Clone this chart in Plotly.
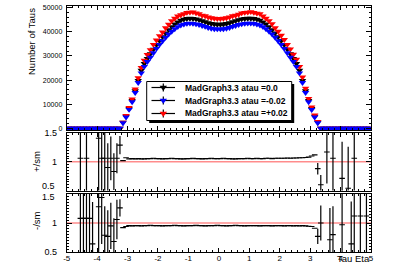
import plotly.graph_objects as go

W, H = 399, 272

# ---------------- data ----------------
BIN_LOW, BIN_WIDTH, N_BINS = -5.0, 0.1, 100
ETA = [round(BIN_LOW + BIN_WIDTH * (i + 0.5), 2) for i in range(N_BINS)]

TAIL_ZEROS = [0] * 18

SM_CORE = [2500, 5000, 8200, 11500, 15500, 19800, 24000, 26800, 28900, 30800,
           32700, 34600, 36300, 37900, 39400, 40800, 42000, 43100, 44000, 44700,
           45100, 45400, 45500, 45400, 45200, 44900, 44500, 44100, 43600, 43300,
           43100, 43000, 43000, 43100, 43300, 43600, 44100, 44500, 44900, 45200,
           45400, 45500, 45500, 45400, 45100, 44700, 44000, 43100, 42000, 40800,
           39400, 37900, 36300, 34600, 32700, 30800, 28900, 26800, 24000, 19800,
           15500, 11500, 8200, 5000, 2500]
PLUS_CORE = [2550, 5350, 8610, 12130, 16280, 20890, 25200, 28140, 30490, 32490,
             34660, 36500, 38300, 39800, 41570, 43040, 44520, 45470, 46420, 46940,
             47360, 47900, 48000, 48120, 47690, 47370, 46730, 46530, 46000, 45680,
             45470, 45370, 45370, 45470, 45680, 46000, 46530, 46730, 47150, 47690,
             47900, 48000, 48230, 47900, 47580, 47380, 46420, 45470, 44520, 43250,
             41570, 40170, 38480, 36680, 34660, 32800, 30630, 28540, 25560, 21190,
             16590, 12360, 8860, 5500, 2800]
MINUS_CORE = [2300, 4700, 7830, 10980, 14800, 18910, 22920, 25590, 27600, 29410,
              31230, 33040, 34670, 36190, 37630, 38960, 40110, 41160, 42020, 42690,
              43070, 43360, 43450, 43360, 43170, 42880, 42500, 42120, 41640, 41350,
              41160, 41070, 41070, 41160, 41350, 41640, 42120, 42500, 42880, 43170,
              43360, 43450, 43450, 43360, 43070, 42690, 42020, 41160, 40110, 38960,
              37630, 36190, 34670, 33040, 31230, 29410, 27600, 25590, 22920, 18910,
              14800, 10980, 7790, 4700, 2280]

SM = TAIL_ZEROS + SM_CORE + TAIL_ZEROS[:17]
PLUS = TAIL_ZEROS + PLUS_CORE + TAIL_ZEROS[:17]
MINUS = TAIL_ZEROS + MINUS_CORE + TAIL_ZEROS[:17]

# ratio panels: well-populated central bins (-3.15 .. 3.15)
RATIO_CORE_ETA = ETA[18:82]
PLUS_RATIO_CORE = [1.02, 1.07,
                   1.05, 1.055, 1.05, 1.055, 1.05, 1.05, 1.055, 1.055, 1.06, 1.055,
                   1.055, 1.05, 1.055, 1.055, 1.06, 1.055, 1.055, 1.05, 1.05, 1.055,
                   1.055, 1.06, 1.055, 1.055, 1.05, 1.055, 1.055, 1.06, 1.055, 1.055,
                   1.055, 1.06, 1.055, 1.055, 1.05, 1.05, 1.055, 1.055, 1.055, 1.06,
                   1.055, 1.055, 1.06, 1.055, 1.055, 1.06, 1.06, 1.055, 1.06, 1.06,
                   1.06, 1.06, 1.065, 1.06, 1.065, 1.065, 1.07, 1.07, 1.075, 1.08,
                   1.10, 1.12]
MINUS_RATIO_CORE = [0.92, 0.94,
                    0.955, 0.95, 0.955, 0.955, 0.95, 0.955, 0.955, 0.96, 0.955, 0.955,
                    0.955, 0.95, 0.955, 0.955, 0.955, 0.96, 0.955, 0.955, 0.95, 0.955,
                    0.955, 0.955, 0.96, 0.955, 0.955, 0.95, 0.955, 0.955, 0.955, 0.96,
                    0.955, 0.955, 0.95, 0.955, 0.955, 0.96, 0.955, 0.955, 0.95, 0.955,
                    0.955, 0.955, 0.955, 0.95, 0.955, 0.955, 0.955, 0.95, 0.955, 0.955,
                    0.955, 0.95, 0.955, 0.955, 0.95, 0.955, 0.95, 0.955, 0.95, 0.945,
                    0.94, 0.91]

# ratio panels: sparsely populated forward bins (large errors)
PLUS_TAIL_ETA = [-4.55, -4.35, -3.95, -3.85, -3.75, -3.65, -3.55, -3.45, -3.35, -3.25,
                 3.25, 3.35, 3.55, 3.75, 4.05, 4.25, 4.45]
PLUS_TAIL_RATIO = [1.06, 1.06, 1.41, 1.06, 1.06, 0.90, 1.06, 0.83, 1.06, 1.29,
                   0.88, 0.60, 1.17, 1.06, 0.71, 0.54, 1.06]
PLUS_TAIL_ERR = [1.5, 1.5, 1.2, 1.0, 0.8, 0.42, 0.38, 0.32, 0.26, 0.16,
                 0.10, 0.17, 0.55, 1.2, 0.64, 0.72, 1.5]

MINUS_TAIL_ETA = [-4.55, -4.45, -4.35, -4.25, -4.15, -3.95, -3.85, -3.75, -3.65, -3.55,
                  -3.45, -3.35, -3.25, 3.25, 3.35, 3.65, 3.75, 4.05, 4.35, 4.45,
                  4.65, 4.85]
MINUS_TAIL_RATIO = [1.08, 1.08, 1.08, 1.08, 0.64, 1.28, 1.44, 0.79, 0.77, 0.95,
                    0.68, 1.06, 1.26, 0.77, 1.00, 0.71, 0.80, 0.97, 0.64, 1.12,
                    1.12, 1.12]
MINUS_TAIL_ERR = [1.5, 1.5, 1.5, 1.5, 0.72, 0.8, 0.8, 0.5, 0.45, 0.4,
                  0.4, 0.34, 0.15, 0.13, 0.3, 0.55, 0.49, 1.2, 0.73, 1.5,
                  1.5, 1.5]

LEG_LABELS = ["MadGraph3.3 atau =0.0", "MadGraph3.3 atau =-0.02", "MadGraph3.3 atau =+0.02"]
COLORS = ["#000000", "#0000ff", "#ff0000"]

TOP_YTICKS = [0, 10000, 20000, 30000, 40000, 50000]
MID_YTICKS = [1, 1.5]          # "0.5" of this pad is half hidden under the lower pad
BOT_YTICKS = [0.5, 1]          # "1.5" of this pad is half clipped at the pad top
X_TICKS = [-5, -4, -3, -2, -1, 0, 1, 2, 3, 4, 5]

# ---------------- layout geometry (pixels) ----------------
def fx(p):
    return p / W

def fy(p):
    return 1 - p / H

XDOM = [fx(66.7), fx(371)]
TOP_DOM = [fy(130), fy(6)]
MID_DOM = [fy(190.5), fy(133)]
BOT_DOM = [fy(252), fy(194)]

FONT = "Liberation Sans, Arial, sans-serif"

fig = go.Figure()

# top panel traces (black, red, blue)
for vals, col in [(SM, COLORS[0]), (PLUS, COLORS[2]), (MINUS, COLORS[1])]:
    fig.add_trace(go.Scatter(x=ETA, y=vals, mode="markers", xaxis="x", yaxis="y",
                             marker=dict(symbol="triangle-down", size=6.5, color=col,
                                         line=dict(width=0)),
                             showlegend=False, hoverinfo="skip"))

ratio_marker = dict(symbol="line-ew", size=4, color="black",
                    line=dict(width=1.1, color="black"))

for xa, ya, ce, cv, te, tv, terr in [
        ("x2", "y2", RATIO_CORE_ETA, PLUS_RATIO_CORE, PLUS_TAIL_ETA, PLUS_TAIL_RATIO, PLUS_TAIL_ERR),
        ("x3", "y3", RATIO_CORE_ETA, MINUS_RATIO_CORE, MINUS_TAIL_ETA, MINUS_TAIL_RATIO, MINUS_TAIL_ERR)]:
    fig.add_trace(go.Scatter(x=ce, y=cv, mode="markers", xaxis=xa, yaxis=ya,
                             marker=ratio_marker, showlegend=False, hoverinfo="skip"))
    fig.add_trace(go.Scatter(x=te, y=tv, mode="markers", xaxis=xa, yaxis=ya,
                             marker=ratio_marker,
                             error_y=dict(type="data", array=terr, visible=True,
                                          thickness=1.2, width=0, color="black"),
                             showlegend=False, hoverinfo="skip"))

# reference lines at ratio 1
for xr, yr in [("x2", "y2"), ("x3", "y3")]:
    fig.add_shape(type="line", xref=xr, yref=yr, x0=-5, x1=5, y0=1, y1=1,
                  line=dict(color="rgba(255,0,0,0.45)", width=1.5), layer="below")

def xaxis_cfg(dom_anchor, labels):
    return dict(domain=XDOM, anchor=dom_anchor, range=[-5, 5], showline=True,
                linecolor="black", linewidth=1, mirror="ticks", ticks="inside",
                ticklen=4, tickwidth=1, tickcolor="black",
                tickvals=X_TICKS, ticktext=[str(v) for v in X_TICKS],
                showticklabels=labels, tickfont=dict(family=FONT, size=8, color="black"),
                ticklabelstandoff=-2,
                minor=dict(dtick=0.2, ticks="inside", ticklen=2, tickcolor="black"),
                showgrid=False, zeroline=False, automargin=False)

def ratio_y(dom, anchor, tv):
    return dict(domain=dom, anchor=anchor, range=[0.5, 1.5], showline=True,
                linecolor="black", linewidth=1, mirror="ticks", ticks="inside",
                ticklen=5, tickwidth=1, tickcolor="black",
                tickvals=tv, ticktext=[("%g" % v) for v in tv],
                tickfont=dict(family=FONT, size=9, color="black"),
                ticklabelstandoff=7,
                minor=dict(dtick=0.05, ticks="inside", ticklen=2.5, tickcolor="black"),
                showgrid=False, zeroline=False, automargin=False)

fig.update_layout(
    width=W, height=H,
    margin=dict(l=0, r=0, t=0, b=0, pad=0),
    paper_bgcolor="white", plot_bgcolor="rgba(0,0,0,0)",
    showlegend=False,
    xaxis=xaxis_cfg("y", False),
    xaxis2=xaxis_cfg("y2", False),
    xaxis3=xaxis_cfg("y3", True),
    yaxis=dict(domain=TOP_DOM, anchor="x", range=[-620, 50620], showline=True,
               linecolor="black", linewidth=1, mirror="ticks", ticks="inside",
               ticklen=5, tickwidth=1, tickcolor="black",
               tickvals=TOP_YTICKS, ticktext=[str(v) for v in TOP_YTICKS],
               tickfont=dict(family=FONT, size=7, color="black"),
               ticklabelstandoff=2,
               minor=dict(dtick=2000, ticks="inside", ticklen=2.5, tickcolor="black"),
               showgrid=False, zeroline=False, automargin=False),
    yaxis2=ratio_y(MID_DOM, "x2", MID_YTICKS),
    yaxis3=ratio_y(BOT_DOM, "x3", BOT_YTICKS),
)

# the two partially hidden labels at the pad boundary
tick_font = dict(family=FONT, size=9, color="black")
fig.add_annotation(text="0.5", x=fx(57), y=fy(186.3), xref="paper", yref="paper",
                   showarrow=False, font=tick_font, xanchor="right", yanchor="middle")
fig.add_annotation(text="1.5", x=fx(57), y=fy(197.2), xref="paper", yref="paper",
                   showarrow=False, font=tick_font, xanchor="right", yanchor="middle")

# axis titles
ann_font = dict(family=FONT, size=9.5, color="black")
fig.add_annotation(text="Number of Taus", x=fx(31.5), y=fy(41.5), xref="paper", yref="paper",
                   textangle=-90, showarrow=False, font=ann_font, xanchor="center", yanchor="middle")
fig.add_annotation(text="+/sm", x=fx(36.5), y=fy(161.5), xref="paper", yref="paper",
                   textangle=-90, showarrow=False, font=ann_font, xanchor="center", yanchor="middle")
fig.add_annotation(text="-/sm", x=fx(36.5), y=fy(220.5), xref="paper", yref="paper",
                   textangle=-90, showarrow=False, font=ann_font, xanchor="center", yanchor="middle")
fig.add_annotation(text="Tau Eta", x=fx(372), y=fy(258), xref="paper", yref="paper",
                   showarrow=False, font=ann_font, xanchor="right", yanchor="middle")

# legend (drawn by hand, ROOT style with shadow)
LX0, LX1, LY0, LY1 = 146.7, 291.7, 81.5, 120.5
fig.add_shape(type="rect", xref="paper", yref="paper",
              x0=fx(LX0 + 2.5), x1=fx(LX1 + 2.5), y0=fy(LY0 + 2.5), y1=fy(LY1 + 2.5),
              fillcolor="black", line=dict(width=0), layer="above")
fig.add_shape(type="rect", xref="paper", yref="paper",
              x0=fx(LX0), x1=fx(LX1), y0=fy(LY0), y1=fy(LY1),
              fillcolor="white", line=dict(color="black", width=1), layer="above")
ROW_Y = [87.5, 100.5, 113.5]
MX = 163.3
for lab, col, ry in zip(LEG_LABELS, COLORS, ROW_Y):
    fig.add_shape(type="line", xref="paper", yref="paper", x0=fx(151.5), x1=fx(175),
                  y0=fy(ry), y1=fy(ry), line=dict(color="black", width=1.2), layer="above")
    fig.add_shape(type="line", xref="paper", yref="paper", x0=fx(MX), x1=fx(MX),
                  y0=fy(ry - 4), y1=fy(ry + 4), line=dict(color="black", width=1.2), layer="above")
    r = 3.25
    rt = r * 2 / 3 ** 0.5
    path = "M {:.4f},{:.4f} L {:.4f},{:.4f} L {:.4f},{:.4f} Z".format(
        fx(MX - rt), fy(ry - r / 2), fx(MX + rt), fy(ry - r / 2), fx(MX), fy(ry + r))
    fig.add_shape(type="path", xref="paper", yref="paper", path=path,
                  fillcolor=col, line=dict(width=0), layer="above")
    fig.add_annotation(text="<b>" + lab + "</b>", x=fx(182.5), y=fy(ry), xref="paper", yref="paper",
                       showarrow=False, xanchor="left", yanchor="middle",
                       font=dict(family=FONT, size=8.5, color="black"))

fig.write_html("out.html",
               config={"displayModeBar": False, "staticPlot": True},
               post_script="document.body.style.margin='0';document.body.style.overflow='hidden';")
